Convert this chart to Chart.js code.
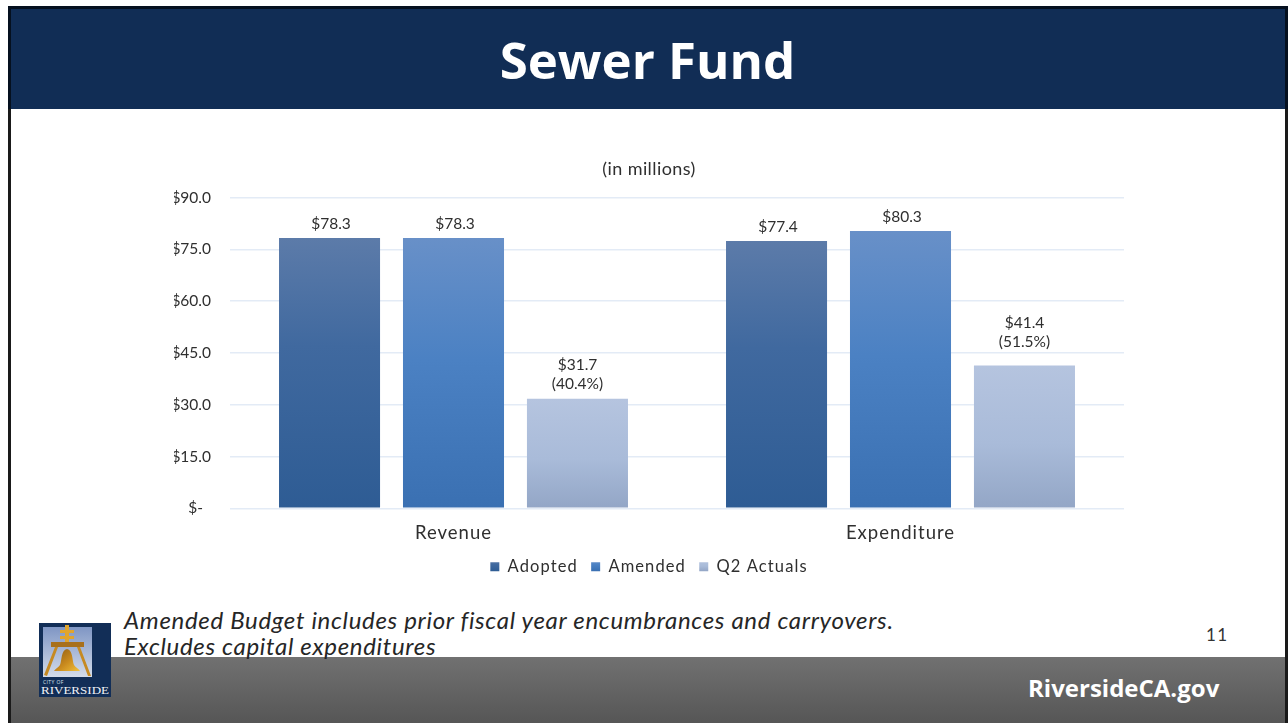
<!DOCTYPE html>
<html><head><meta charset="utf-8">
<script src="https://cdn.jsdelivr.net/npm/chart.js@4"></script>
<style>
html,body{margin:0;padding:0;background:#fff;width:1288px;height:723px;overflow:hidden}
#slide{position:relative;width:1288px;height:723px;overflow:hidden}
.abs{position:absolute}
#head{left:8px;top:6px;width:1274px;height:100px;background:#112d55;border:3px solid #05101f;border-bottom:none}
#lb{left:8px;top:109px;width:3px;height:548px;background:#1a1a1a}
#rb{left:1285px;top:109px;width:3px;height:548px;background:#1a1a1a}
#foot{left:8px;top:657px;width:1280px;height:66px;background:linear-gradient(#717171,#565656);border-left:3px solid #1a1a1a;border-right:3px solid #1a1a1a;box-sizing:border-box}
#title{left:10px;width:1275px;top:23px;text-align:center;color:#fff;font:700 51px "Open Sans",sans-serif;line-height:72px}
#note{left:124px;top:607px;color:#262626;font:italic 24px/26px Lato,sans-serif;letter-spacing:.68px;white-space:pre}
#num{left:1206px;top:624px;color:#333;font:17px Lato,sans-serif;letter-spacing:1.5px}
#web{left:1028px;top:671px;color:#fff;font:700 24px "Open Sans",sans-serif;line-height:34px}
canvas{position:absolute;left:10px;top:110px}
</style></head><body>
<div id="slide">
<div id="foot" class="abs"></div>
<div id="head" class="abs"></div><div id="lb" class="abs"></div><div id="rb" class="abs"></div>
<div id="title" class="abs">Sewer Fund</div>
<canvas id="c" width="1278" height="490" style="width:1278px;height:490px"></canvas>
<div id="note" class="abs">Amended Budget includes prior fiscal year encumbrances and carryovers.
Excludes capital expenditures</div>
<div id="num" class="abs">11</div>
<div id="web" class="abs">RiversideCA.gov</div>
<svg class="abs" style="left:39px;top:623px" width="72" height="74" viewBox="0 0 72 74">
<defs>
<linearGradient id="sky" x1="0" y1="0" x2="0" y2="1"><stop offset="0" stop-color="#7f96c4"/><stop offset="1" stop-color="#d4dcea"/></linearGradient>
<linearGradient id="gold" x1="0" y1="0" x2="1" y2="1"><stop offset="0" stop-color="#8a5a14"/><stop offset="0.55" stop-color="#c98a1e"/><stop offset="1" stop-color="#f2c23c"/></linearGradient>
</defs>
<rect width="72" height="74" fill="#122e57"/>
<rect x="4" y="4" width="49" height="50" fill="url(#sky)"/>
<rect x="26" y="2" width="4" height="21" fill="#e0a52e"/>
<rect x="21" y="7" width="14" height="3" fill="#e0a52e"/><rect x="21" y="13" width="14" height="3" fill="#e0a52e"/>
<rect x="12" y="19" width="33" height="5" fill="#a8701c"/>
<path d="M16 24 L5 52 L8 53 L19 24Z M41 24 L52 53 L49 53 L38 24Z" fill="#c68a22"/>
<path d="M28 26 C22 27 23 37 21 42 C20 44 16 46 15 48 L41 48 C40 46 36 44 35 42 C33 37 34 27 28 26Z" fill="url(#gold)"/>
<text x="4" y="61" fill="#dfe5ee" font-family="'Open Sans',sans-serif" font-size="5" letter-spacing=".4">CITY OF</text>
<text x="2" y="71" fill="#f0f2f6" font-family="'Liberation Serif',serif" font-size="11" textLength="68" lengthAdjust="spacingAndGlyphs">RIVERSIDE</text>
</svg>
</div>
<script>
const categories = ["Revenue", "Expenditure"];
const seriesNames = ["Adopted", "Amended", "Q2 Actuals"];
const adopted = [78.3, 77.4];
const amended = [78.3, 80.3];
const q2Actuals = [31.7, 41.4];
const q2Percent = ["(40.4%)", "(51.5%)"];
const yTicks = [0, 15, 30, 45, 60, 75, 90];
const chartTitle = "(in millions)";

const FONT = "Lato, sans-serif";
const TEXT = "#2f2f2f";
const ramps = [
  [[0,"#5c7ba9"],[0.4,"#40699f"],[1,"#2e5c94"]],
  [[0,"#6890c8"],[0.45,"#4b81c3"],[1,"#3a70b2"]],
  [[0,"#b5c4df"],[0.55,"#a9bbd9"],[1,"#93a6c6"]]
];
function ramp(ctx, y0, y1, stops){
  const g = ctx.createLinearGradient(0,y0,0,y1);
  stops.forEach(s=>g.addColorStop(s[0],s[1]));
  return g;
}
function barFill(i){
  return c=>{
    const ch=c.chart, a=ch.chartArea;
    if(!a||c.dataIndex===undefined) return ramps[i][1][1];
    const y=ch.scales.y;
    return ramp(ch.ctx, y.getPixelForValue(c.raw), y.getPixelForValue(0), ramps[i]);
  };
}
function spaced(obj, method, px){
  const orig=obj[method];
  obj[method]=function(...a){
    const ctx=this.ctx||this.chart.ctx;
    ctx.letterSpacing=px+"px";
    orig.apply(this,a);
    ctx.letterSpacing="0px";
  };
}
const seriesValues=[adopted,amended,q2Actuals];
const textSpacing={
  id:"textSpacing",
  beforeLayout(ch){ch.ctx.letterSpacing="1.1px";},
  afterLayout(ch){ch.ctx.letterSpacing="0px";},
  beforeDraw(ch){
    if(ch.$spaced) return;
    ch.$spaced=true;
    spaced(ch.legend,"draw",1.1);
    spaced(ch.titleBlock,"draw",0.4);
    spaced(ch.scales.x,"drawLabels",1);
  }
};
const barLabels={
  id:"barLabels",
  afterDatasetsDraw(ch){
    const ctx=ch.ctx;
    ctx.save();
    ctx.font="15.5px "+FONT; ctx.fillStyle=TEXT; ctx.textAlign="center"; ctx.textBaseline="middle";
    seriesValues.forEach((vals,d)=>{
      const m=ch.getDatasetMeta(d);
      vals.forEach((v,i)=>{
        const el=m.data[i], t="$"+v.toFixed(1);
        if(d===2){
          const lift=i===1?8:0; /* the Expenditure label sits higher above its bar in the reference */
          ctx.fillText(t,el.x,el.y-34-lift);
          ctx.fillText(q2Percent[i],el.x,el.y-15-lift);
        } else ctx.fillText(t,el.x+1.5,el.y-14);
      });
    });
    ctx.restore();
  }
};
new Chart(document.getElementById("c"),{
  type:"bar",
  data:{labels:categories,datasets:seriesValues.map((vals,i)=>({
    label:seriesNames[i],data:vals,backgroundColor:barFill(i),borderWidth:0,
    categoryPercentage:0.832,barPercentage:0.815
  }))},
  plugins:[textSpacing,barLabels],
  options:{
    responsive:false,animation:false,
    layout:{padding:{left:164,right:164,top:48,bottom:15}},
    plugins:{
      tooltip:{enabled:false},
      title:{display:true,text:chartTitle,color:TEXT,font:{family:FONT,size:18,weight:"normal"},padding:{top:0,bottom:18}},
      legend:{position:"bottom",labels:{
        boxWidth:9,boxHeight:9,color:TEXT,font:{family:FONT,size:16.5},padding:8,
        generateLabels(ch){
          return seriesNames.map((n,i)=>({text:n+(i<2?"\u00a0":""),fillStyle:ramp(ch.ctx,450,461,ramps[i]),lineWidth:0,strokeStyle:"transparent",fontColor:TEXT,datasetIndex:i}));
        }
      }}
    },
    scales:{
      x:{grid:{display:false},border:{display:false},
        ticks:{color:TEXT,font:{family:FONT,size:18.5},padding:6}},
      y:{min:0,max:90,
        afterBuildTicks(s){s.ticks=yTicks.map(v=>({value:v}));},
        afterFit(s){s.width=56;},
        grid:{color:"#e3ebf6",lineWidth:1.5,drawTicks:false},border:{display:false},
        ticks:{color:TEXT,font:{family:FONT,size:15.5},padding:19,
          callback:v=>v===0?"$-\u00a0\u00a0":"$"+v.toFixed(1)}}
    }
  }
});
</script>
</body></html>
